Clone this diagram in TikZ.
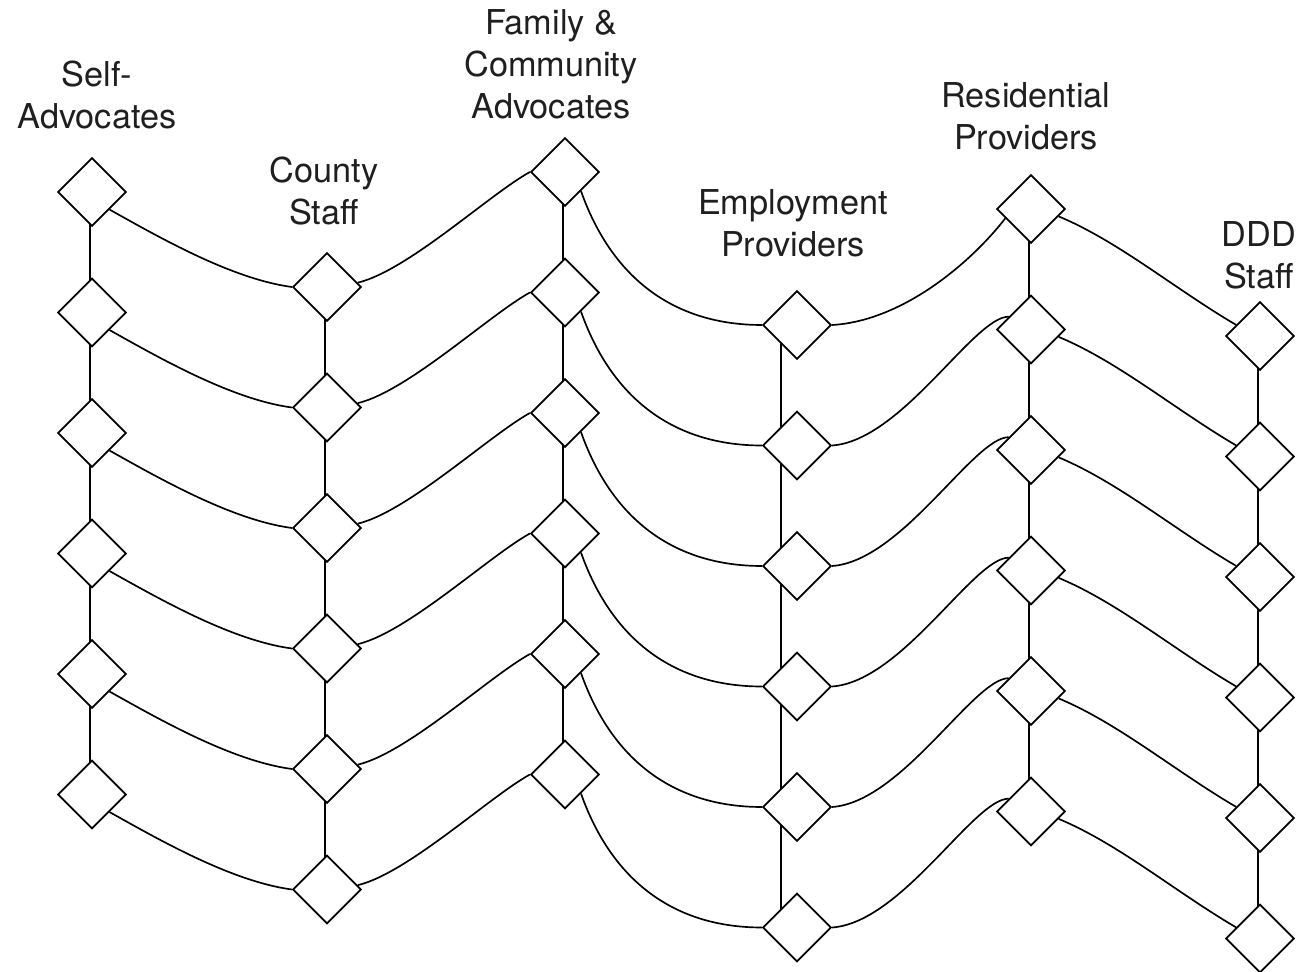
\documentclass[tikz,border=0pt]{standalone}
\usepackage{fontspec}
\setmainfont{TeX Gyre Heros}
\usetikzlibrary{shapes.geometric}
\pgfdeclarelayer{bg}
\pgfsetlayers{bg,main}
\begin{document}
\begin{tikzpicture}[x=0.02cm,y=-0.02cm,
  dmd/.style={diamond,draw=black,fill=white,inner sep=0pt,minimum size=1.37cm,line width=0.95pt},
  link/.style={draw=black,line width=0.95pt},
  lbl/.style={align=center,font=\fontsize{19.5}{24}\selectfont,text=black!88}]
\useasboundingbox (0,0) rectangle (1312,972);
% labels
\node[lbl] (lA) at (97,95) {Self-\\Advocates};
\node[lbl] (lB) at (324,191) {County\\Staff};
\node[lbl] (lC) at (551,64) {Family \&\\Community\\Advocates};
\node[lbl] (lD) at (793,223) {Employment\\Providers};
\node[lbl] (lE) at (1026,116) {Residential\\Providers};
\node[lbl] (lF) at (1259,255) {DDD\\Staff};
% diamonds
\foreach \c/\x/\y in {A/92/192, B/327/287, C/565/172, D/797/325, E/1031/209, F/1260/336} {
  \foreach \r in {1,...,6} {
    \node[dmd] (\c\r) at (\x,{\y+(\r-1)*120.5}) {};
  }
}
\begin{pgfonlayer}{bg}
% vertical column lines
\foreach \c/\s in {A/-0.04cm, B/-0.04cm, C/-0.04cm, D/-0.32cm, E/-0.04cm, F/-0.04cm} {
  \foreach \r [evaluate=\r as \n using int(\r+1)] in {1,...,5} {
    \draw[link] ([xshift=\s]\c\r.center) -- ([xshift=\s]\c\n.center);
  }
}
% curves between columns
\foreach \r in {1,...,6} {
  \draw[link] (A\r.-45) .. controls +(50,28) and +(-60,-8) .. (B\r.west);
  \draw[link] (B\r.8) .. controls +(50,-12) and +(-40,22) .. (C\r.west);
  \draw[link] (C\r.-50) .. controls +(30,85) and +(-90,0) .. (D\r.west);
  \draw[link] (E\r.-15) .. controls +(60,25) and +(-60,-35) .. (F\r.155);
}
\draw[link] (D1.east) .. controls +(70,-4) and +(-35,45) .. (E1.200);
\foreach \r in {2,...,6} {
  \draw[link] (D\r.east) .. controls +(70,-5) and +(-35,0) .. (E\r.150);
}
\end{pgfonlayer}
\end{tikzpicture}
\end{document}
